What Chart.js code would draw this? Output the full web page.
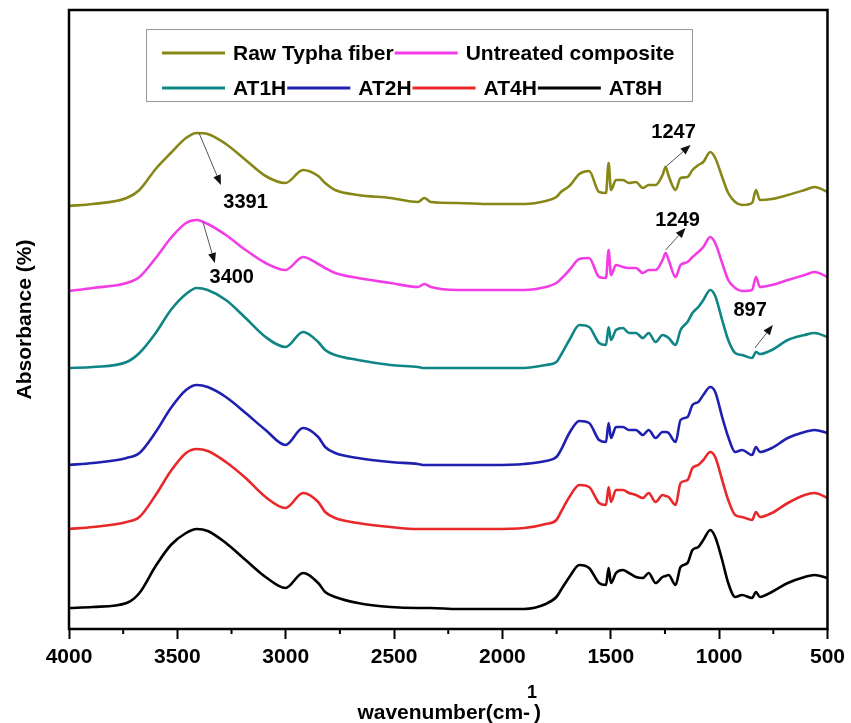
<!DOCTYPE html>
<html>
<head>
<meta charset="utf-8">
<script src="https://cdn.jsdelivr.net/npm/chart.js@4.4.1/dist/chart.umd.min.js"></script>
<style>
html,body{margin:0;padding:0;background:#fff;}
#wrap{width:851px;height:723px;position:relative;}
</style>
</head>
<body>
<div id="wrap"><canvas id="c" width="851" height="723"></canvas></div>
<script>
// ---- Data (wavenumber in cm-1; absorbance in arbitrary stacked units) ----
const wavenumbers = [4000,3890,3734,3675,3600,3530,3460,3410,3360,3276,3185,3093,3001,2920,2850,2818,2772,2667,2516,2390,2360,2330,2209,2050,1900,1800,1751,1730,1691,1645,1600,1554,1522,1510,1499,1476,1444,1416,1384,1352,1325,1293,1261,1247,1233,1201,1178,1146,1123,1096,1073,1041,1018,986,958,926,894,848,830,812,757,683,605,560,500];

const rawTyphaFiber = [423,425,431,439,460,476,491,496,495,485,469,453,446,459,453,446,439,434,431,427,431,427,426,425,425,428,432,437,443,455,458,437,436,466,439,449,449,446,447,441,444,444,454,462,453,439,451,452,459,464,467,477,471,452,436,427,424,426,439,429,430,434,439,442,437];
const untreatedComposite = [338,341,346,352,371,391,406,409,405,394,379,366,359,372,365,361,356,351,346,342,345,342,339,339,339,342,346,350,359,370,371,352,351,379,354,364,362,361,361,356,359,359,369,376,369,352,364,367,372,377,382,392,386,366,349,341,338,339,352,342,344,349,354,357,352];
const at1h = [261,262,267,276,296,319,335,341,339,329,311,292,282,297,287,279,274,269,264,262,261,261,261,261,261,264,267,274,289,304,302,286,284,302,289,299,301,296,296,291,296,287,294,293,291,284,299,307,316,322,329,339,333,309,289,276,274,271,277,275,279,289,294,296,292];
const at2h = [164,166,171,176,197,221,239,244,242,232,216,199,184,201,192,182,176,171,167,165,164,164,164,164,165,168,172,179,196,208,206,189,187,206,191,202,202,199,199,194,199,191,197,197,196,187,209,212,224,227,234,242,237,212,192,177,179,174,182,177,181,191,197,199,196];
const at4h = [100,102,107,112,134,158,176,180,178,167,151,132,121,136,127,117,111,106,102,100,100,100,100,100,101,105,109,117,132,144,142,126,124,142,127,139,139,136,134,131,136,127,134,133,132,124,146,149,161,164,169,177,172,149,129,114,112,109,117,112,116,126,134,136,131];
const at8h = [21,22,26,36,63,84,96,100,98,86,69,52,41,56,46,37,32,26,22,21,21,21,20,20,20,25,32,39,52,64,61,46,44,61,46,56,59,56,52,51,56,46,52,53,54,44,62,66,79,82,89,99,92,69,46,32,34,31,37,32,37,46,52,54,51];

const seriesNames = ['Raw Typha fiber','Untreated composite','AT1H','AT2H','AT4H','AT8H'];
const seriesValues = [rawTyphaFiber, untreatedComposite, at1h, at2h, at4h, at8h];
const seriesColors = ['#878717','#f23ce6','#0f8585','#1f1fb0','#e8282a','#000000'];

const xTickValues = [4000,3500,3000,2500,2000,1500,1000,500];
const xMinorTicks = [3750,3250,2750,2250,1750,1250,750];

// peak annotations: label, arrow tail, arrow head, label centre (data coords)
const peakLabels = ['3391','3400','1247','1249','897'];
const peakArrowFrom = [[3400,496],[3382,407],[1247,462],[1247,379],[835,281]];
const peakArrowTo   = [[3299,444],[3327,366],[1132,484],[1155,401],[752,304]];
const peakLabelAt   = [[3185,427],[3249,352],[1210,497],[1192,409],[857,319]];

// ---- Chart ----
const FONT = '"Liberation Sans", Arial, Helvetica, sans-serif';
Chart.defaults.font.family = FONT;
Chart.defaults.color = '#000';

const datasets = seriesNames.map((name, i) => ({
  label: name,
  data: wavenumbers.map((w, j) => ({x: w, y: seriesValues[i][j]})),
  borderColor: seriesColors[i],
  backgroundColor: seriesColors[i],
  borderWidth: 2.6,
  pointRadius: 0,
  fill: false,
  cubicInterpolationMode: 'monotone'
}));

const extras = {
  id: 'extras',
  afterDatasetsDraw(chart) {
    const {ctx, chartArea: a, scales: {x, y}} = chart;
    ctx.save();
    // minor ticks
    ctx.strokeStyle = '#000';
    ctx.lineWidth = 2;
    xMinorTicks.forEach(v => {
      const px = x.getPixelForValue(v);
      ctx.beginPath(); ctx.moveTo(px, a.bottom); ctx.lineTo(px, a.bottom + 5); ctx.stroke();
    });
    // frame
    ctx.lineWidth = 2.5;
    ctx.strokeRect(a.left, a.top, a.right - a.left, a.bottom - a.top);

    // peak arrows and labels
    peakLabels.forEach((lab, i) => {
      const fx = x.getPixelForValue(peakArrowFrom[i][0]), fy = y.getPixelForValue(peakArrowFrom[i][1]);
      const tx = x.getPixelForValue(peakArrowTo[i][0]), ty = y.getPixelForValue(peakArrowTo[i][1]);
      const ang = Math.atan2(ty - fy, tx - fx);
      const hl = 10, hw = 4;
      const bx = tx - hl * Math.cos(ang), by = ty - hl * Math.sin(ang);
      ctx.strokeStyle = '#555'; ctx.lineWidth = 1;
      ctx.beginPath(); ctx.moveTo(fx, fy); ctx.lineTo(bx, by); ctx.stroke();
      ctx.fillStyle = '#111';
      ctx.beginPath();
      ctx.moveTo(tx, ty);
      ctx.lineTo(bx + hw * Math.sin(ang), by - hw * Math.cos(ang));
      ctx.lineTo(bx - hw * Math.sin(ang), by + hw * Math.cos(ang));
      ctx.closePath(); ctx.fill();
      ctx.font = 'bold 20px ' + FONT;
      ctx.textAlign = 'center'; ctx.textBaseline = 'middle';
      ctx.fillStyle = '#000';
      ctx.fillText(lab, x.getPixelForValue(peakLabelAt[i][0]), y.getPixelForValue(peakLabelAt[i][1]));
    });

    // legend
    const lx = a.left + 77, ly = a.top + 19, lw = 546, lh = 72;
    ctx.strokeStyle = '#999'; ctx.lineWidth = 1;
    ctx.strokeRect(lx + 0.5, ly + 0.5, lw, lh);
    ctx.font = 'bold 21px ' + FONT;
    ctx.textAlign = 'left'; ctx.textBaseline = 'middle';
    const rows = [[0,1],[2,3,4,5]];
    const rowY = [ly + 24, ly + 59];
    rows.forEach((row, r) => {
      let cx = lx + 16;
      row.forEach(idx => {
        ctx.strokeStyle = seriesColors[idx]; ctx.lineWidth = 3;
        ctx.beginPath(); ctx.moveTo(cx, rowY[r]); ctx.lineTo(cx + 63, rowY[r]); ctx.stroke();
        ctx.fillStyle = '#000';
        ctx.fillText(seriesNames[idx], cx + 71, rowY[r] + 1);
        cx += 71 + ctx.measureText(seriesNames[idx]).width + 1;
      });
    });

    // x-axis title with superscript
    ctx.font = 'bold 21px ' + FONT;
    const main = 'wavenumber(cm-', close = ')';
    const wMain = ctx.measureText(main).width, wClose = ctx.measureText(close).width;
    const total = wMain + 4 + wClose;
    const sx = (a.left + a.right) / 2 + 1 - total / 2;
    const ty0 = a.bottom + 84;
    ctx.fillStyle = '#000'; ctx.textAlign = 'left'; ctx.textBaseline = 'middle';
    ctx.fillText(main, sx, ty0);
    ctx.fillText(close, sx + wMain + 4, ty0);
    ctx.font = 'bold 18px ' + FONT;
    ctx.textAlign = 'center';
    ctx.fillText('1', sx + wMain + 2, ty0 - 20);
    ctx.restore();
  }
};

new Chart(document.getElementById('c'), {
  type: 'line',
  data: { datasets },
  options: {
    responsive: false,
    animation: false,
    devicePixelRatio: 1,
    layout: { padding: { top: 10, right: 18, left: 0, bottom: 0 } },
    plugins: { legend: { display: false }, tooltip: { enabled: false } },
    scales: {
      x: {
        type: 'linear',
        reverse: true,
        min: 500, max: 4000,
        afterFit: s => { s.height = 94; },
        afterBuildTicks: s => { s.ticks = xTickValues.map(v => ({value: v})); },
        ticks: {
          autoSkip: false, maxRotation: 0, padding: 6,
          font: { size: 21, weight: 'bold' }, color: '#000',
          callback: v => String(v)
        },
        grid: { display: true, drawOnChartArea: false, drawTicks: true, tickLength: 10, tickColor: '#000', tickWidth: 2 },
        border: { display: false }
      },
      y: {
        type: 'linear',
        min: 0, max: 619,
        afterFit: s => { s.width = 69; },
        ticks: { display: false },
        grid: { display: false },
        border: { display: false },
        title: { display: true, text: 'Absorbance (%)', color: '#000', font: { size: 21, weight: 'bold' }, padding: { top: 13, bottom: 0 } }
      }
    }
  },
  plugins: [extras]
});
</script>
</body>
</html>
